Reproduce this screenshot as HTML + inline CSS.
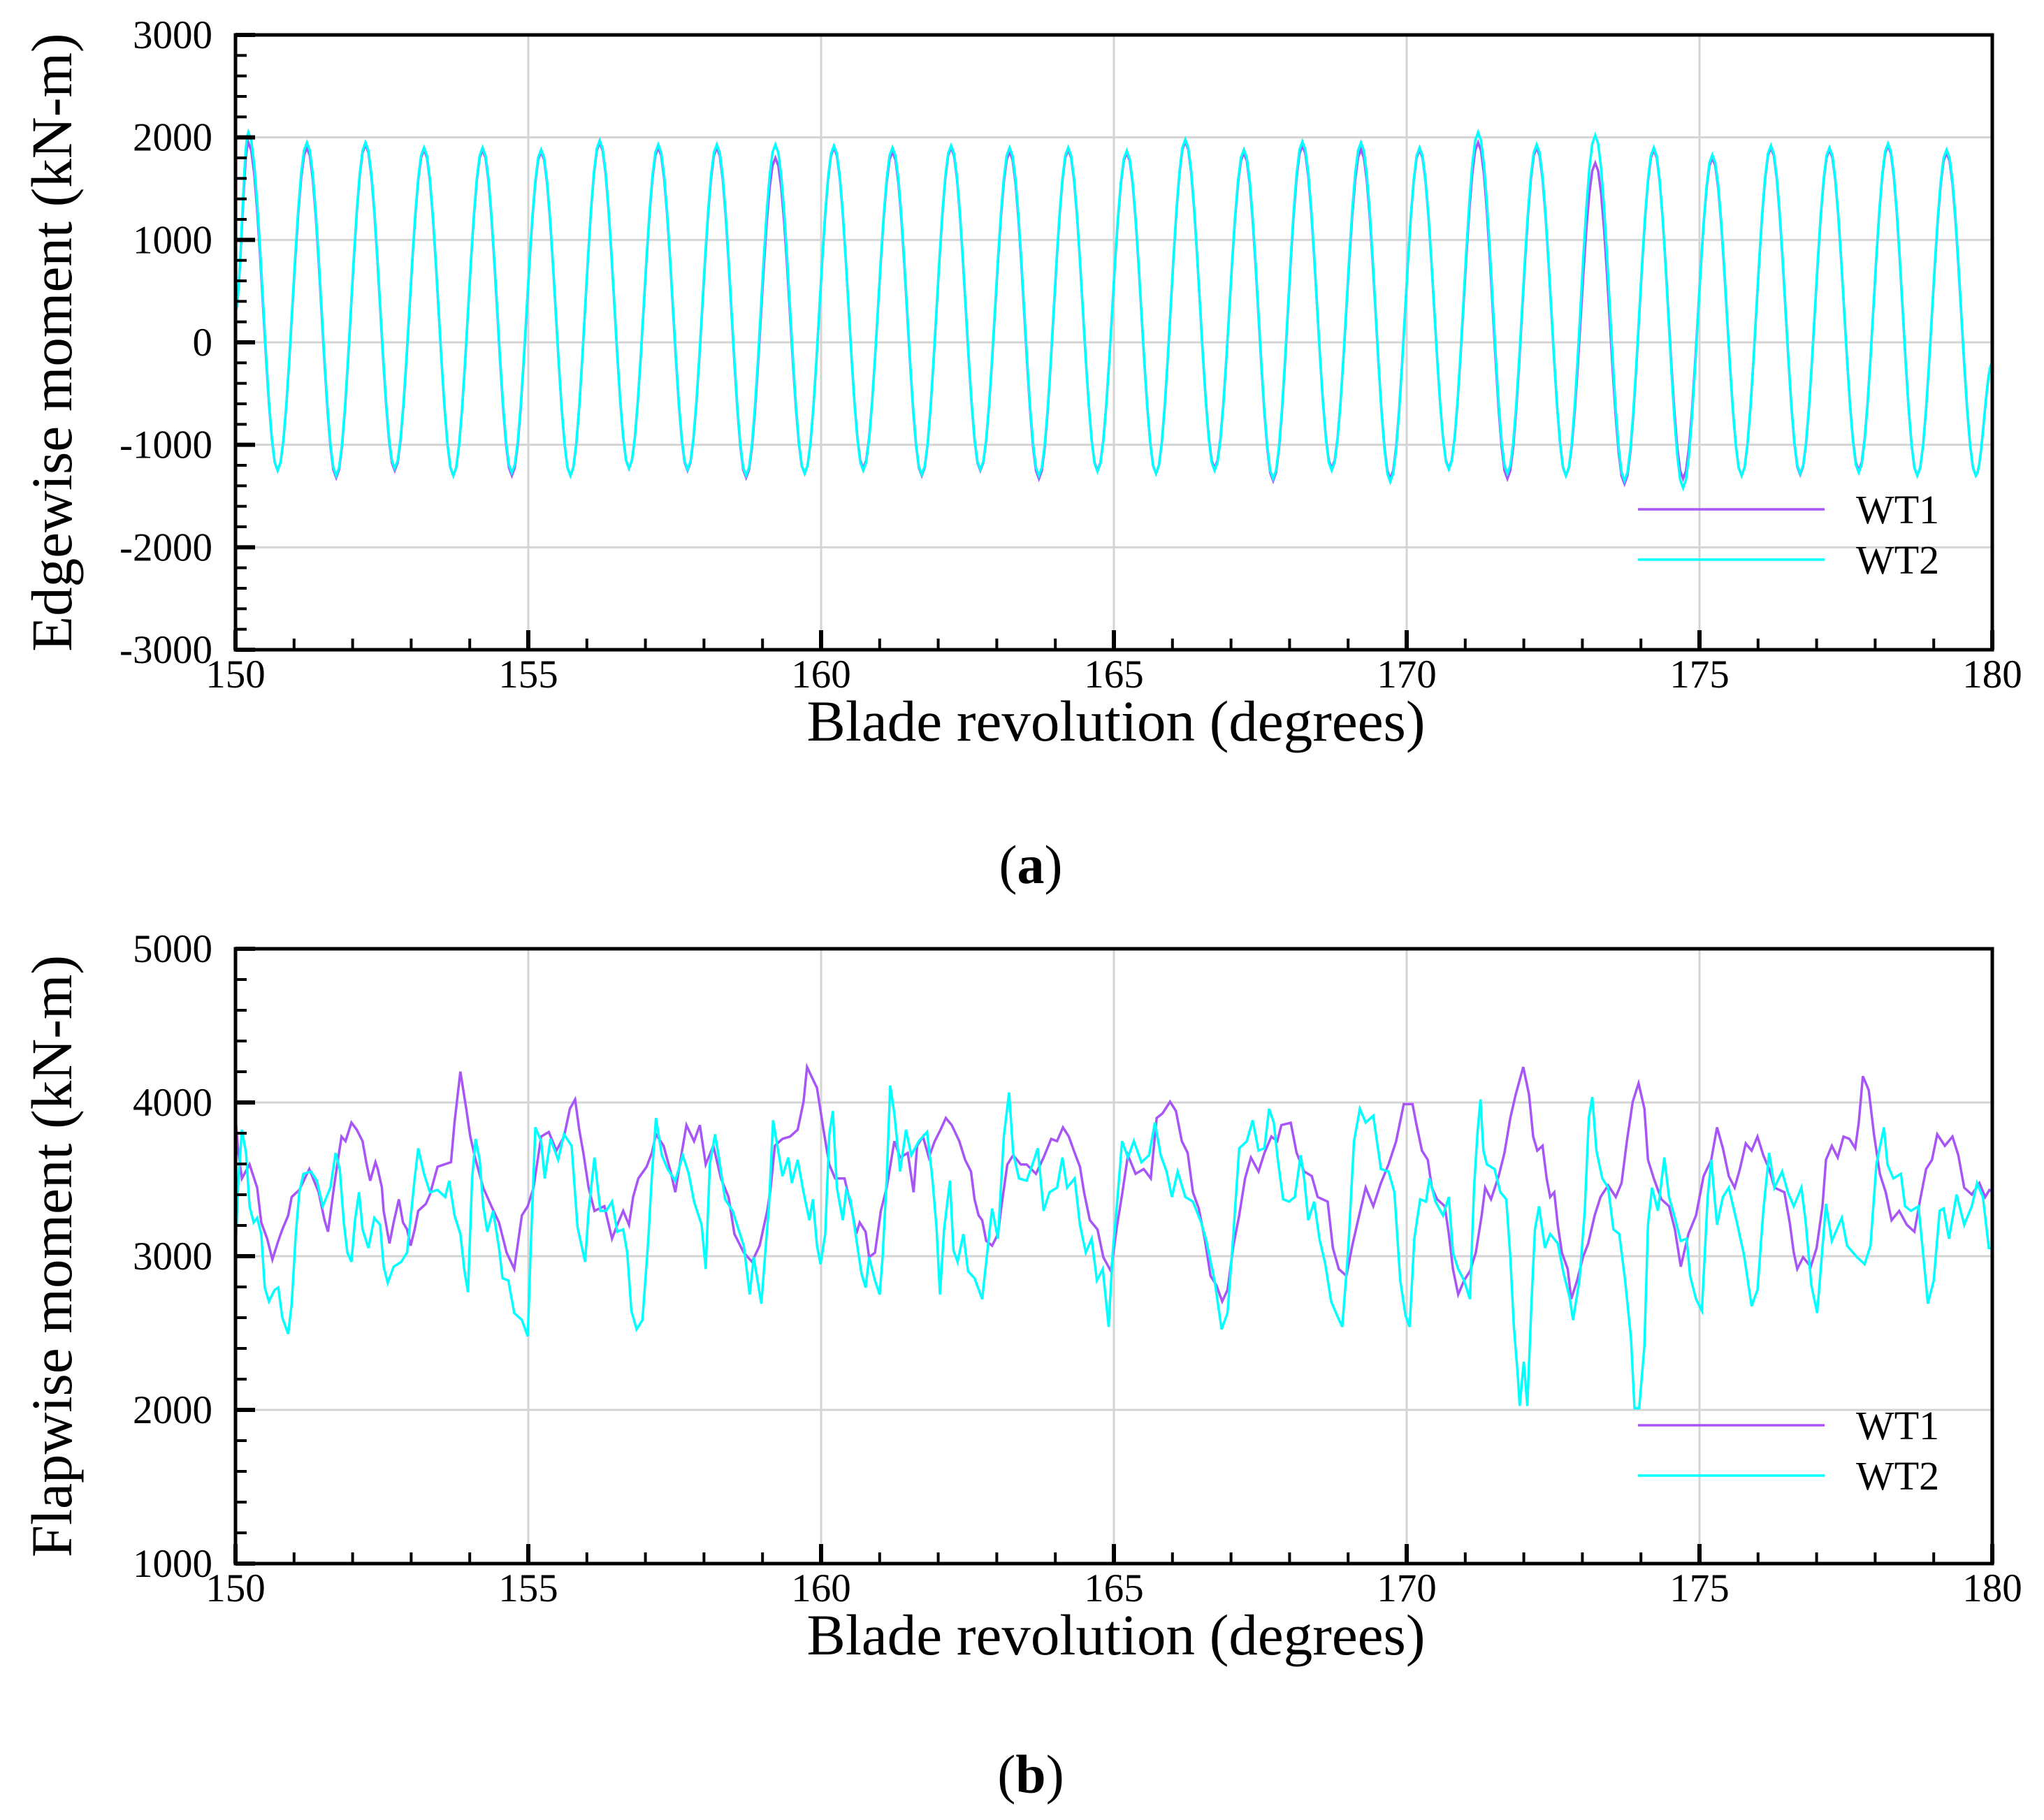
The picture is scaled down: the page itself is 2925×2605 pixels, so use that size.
<!DOCTYPE html>
<html><head><meta charset="utf-8"><style>
html,body{margin:0;padding:0;background:#fff;}
svg{display:block;font-family:"Liberation Serif",serif;}
</style></head><body>
<svg id="fig" width="2925" height="2605" viewBox="0 0 2925 2605" xmlns="http://www.w3.org/2000/svg"></svg>
<script>
// ---- Panel (a) data: edgewise moment, per-cycle extrema (kN-m) ----
const edgeCycleStart = 150.22;
const edgeStartValue = 300;
const edgeEndValue = -200;
const edgePeaksWT1 = [1950,1900,1930,1880,1880,1860,1950,1900,1900,1800,1900,1860,1900,1860,1880,1850,1960,1850,1920,1880,1880,1950,1900,1750,1880,1800,1900,1880,1920,1850];
const edgeTroughsWT1 = [-1250,-1320,-1250,-1300,-1300,-1300,-1230,-1250,-1320,-1280,-1230,-1300,-1250,-1330,-1250,-1280,-1230,-1350,-1230,-1330,-1230,-1330,-1300,-1380,-1330,-1300,-1290,-1250,-1300,-1300];
const edgePeaksWT2 = [2050,1950,1950,1900,1900,1880,1970,1930,1930,1930,1920,1900,1920,1900,1900,1870,1980,1880,1960,1950,1900,2050,1930,2020,1900,1830,1920,1900,1940,1880];
const edgeTroughsWT2 = [-1250,-1300,-1230,-1300,-1270,-1300,-1230,-1240,-1300,-1280,-1250,-1290,-1240,-1300,-1260,-1280,-1250,-1330,-1250,-1360,-1240,-1280,-1300,-1350,-1420,-1300,-1280,-1270,-1300,-1300];
const xTicks = [150,155,160,165,170,175,180];
const yTicksA = [-3000,-2000,-1000,0,1000,2000,3000];
const yTicksB = [1000,2000,3000,4000,5000];
// ---- Panel (b) data: flapwise moment samples ----
const flapXWT1 = [150,150.05,150.11,150.24,150.37,150.44,150.54,150.63,150.73,150.80,150.90,150.96,151.09,151.26,151.42,151.52,151.58,151.68,151.75,151.81,151.88,151.98,152.07,152.17,152.24,152.30,152.39,152.43,152.50,152.53,152.60,152.63,152.70,152.79,152.86,152.93,152.99,153.06,153.12,153.25,153.32,153.45,153.68,153.74,153.84,153.94,154.01,154.10,154.23,154.37,154.50,154.63,154.76,154.89,154.99,155.09,155.22,155.35,155.48,155.61,155.71,155.80,155.87,155.94,156.03,156.13,156.30,156.43,156.52,156.62,156.72,156.79,156.88,157.02,157.11,157.18,157.31,157.44,157.51,157.60,157.70,157.83,157.93,158.03,158.16,158.29,158.42,158.52,158.68,158.82,158.95,159.08,159.14,159.21,159.34,159.47,159.60,159.70,159.76,159.93,160.04,160.14,160.24,160.40,160.53,160.60,160.66,160.76,160.82,160.92,161.02,161.12,161.25,161.35,161.48,161.58,161.64,161.74,161.84,161.94,162.04,162.13,162.23,162.36,162.46,162.56,162.62,162.69,162.75,162.82,162.92,163.02,163.08,163.18,163.28,163.41,163.51,163.67,163.80,163.93,164.03,164.13,164.23,164.33,164.42,164.49,164.59,164.72,164.82,164.95,165.05,165.14,165.24,165.37,165.51,165.63,165.73,165.83,165.96,166.06,166.16,166.26,166.35,166.45,166.55,166.65,166.75,166.85,166.94,167.04,167.14,167.24,167.34,167.47,167.57,167.69,167.79,167.86,168.02,168.12,168.25,168.38,168.48,168.65,168.74,168.84,168.97,169.07,169.17,169.30,169.43,169.56,169.69,169.82,169.95,170.10,170.16,170.26,170.36,170.43,170.52,170.65,170.72,170.79,170.88,170.98,171.08,171.18,171.28,171.34,171.44,171.57,171.67,171.77,171.86,171.99,172.09,172.16,172.23,172.32,172.39,172.45,172.52,172.58,172.65,172.75,172.81,172.91,173.01,173.10,173.21,173.31,173.44,173.57,173.67,173.76,173.86,173.96,174.06,174.12,174.22,174.35,174.48,174.58,174.68,174.81,174.94,175.07,175.20,175.30,175.40,175.50,175.60,175.69,175.79,175.89,175.99,176.09,176.19,176.28,176.45,176.54,176.61,176.67,176.77,176.90,177.00,177.10,177.16,177.26,177.36,177.46,177.56,177.66,177.72,177.79,177.89,177.98,178.08,178.18,178.28,178.41,178.54,178.67,178.77,178.87,178.97,179.06,179.19,179.32,179.42,179.52,179.65,179.78,179.88,179.95,180];
const flapYWT1 = [3900,3672,3506,3597,3446,3219,3114,2978,3099,3174,3265,3385,3431,3567,3416,3234,3159,3446,3627,3778,3748,3869,3823,3748,3597,3491,3612,3567,3446,3295,3144,3083,3219,3370,3219,3174,3068,3174,3295,3340,3401,3582,3612,3869,4201,3959,3778,3627,3446,3325,3219,3023,2917,3265,3325,3446,3778,3808,3687,3778,3959,4020,3823,3672,3446,3295,3325,3114,3204,3295,3204,3385,3506,3582,3672,3793,3718,3536,3416,3627,3853,3748,3853,3597,3718,3506,3385,3144,3023,2963,3068,3295,3446,3718,3763,3778,3823,4005,4231,4095,3823,3597,3506,3506,3295,3144,3219,3159,2993,3023,3295,3446,3748,3642,3672,3416,3718,3778,3642,3748,3823,3899,3853,3748,3627,3551,3370,3265,3234,3099,3068,3144,3325,3597,3657,3597,3597,3536,3642,3763,3748,3838,3778,3672,3582,3416,3234,3174,2993,2902,3189,3400,3657,3536,3567,3506,3899,3929,4005,3944,3748,3672,3416,3310,3114,2872,2811,2706,2781,3068,3265,3506,3642,3551,3672,3778,3748,3853,3868,3672,3551,3521,3385,3355,3053,2917,2872,3068,3234,3446,3325,3476,3597,3748,3989,3989,3869,3687,3627,3446,3370,3325,3144,2917,2751,2842,2902,3023,3265,3446,3370,3521,3672,3899,4050,4231,4050,3778,3687,3718,3506,3385,3416,3204,3023,2917,2721,2842,2993,3083,3265,3385,3461,3385,3476,3748,4005,4125,3959,3627,3506,3370,3325,3174,2932,3144,3265,3521,3627,3838,3702,3521,3446,3567,3733,3687,3778,3657,3567,3446,3416,3219,3023,2917,2993,2932,3053,3325,3627,3718,3642,3778,3763,3702,3869,4171,4080,3793,3536,3416,3234,3295,3204,3159,3370,3567,3627,3793,3718,3778,3657,3446,3401,3476,3385,3431,3420];
const flapXWT2 = [150,150.05,150.11,150.18,150.24,150.31,150.37,150.44,150.50,150.57,150.67,150.73,150.80,150.90,150.96,151.03,151.09,151.16,151.29,151.39,151.49,151.62,151.71,151.78,151.85,151.91,151.98,152.04,152.11,152.17,152.27,152.37,152.47,152.53,152.60,152.70,152.83,152.93,153.06,153.12,153.22,153.32,153.45,153.58,153.65,153.74,153.84,153.91,153.97,154.04,154.10,154.17,154.23,154.30,154.40,154.50,154.56,154.66,154.76,154.89,154.99,155.05,155.12,155.22,155.28,155.38,155.51,155.61,155.74,155.84,155.97,156.03,156.13,156.23,156.33,156.43,156.52,156.62,156.69,156.76,156.85,156.95,157.05,157.11,157.18,157.28,157.38,157.51,157.64,157.74,157.83,157.96,158.03,158.10,158.19,158.26,158.36,158.49,158.59,158.68,158.78,158.85,158.98,159.04,159.11,159.18,159.24,159.34,159.44,159.50,159.60,159.70,159.80,159.86,159.93,159.99,160.07,160.14,160.20,160.27,160.37,160.43,160.50,160.60,160.69,160.76,160.82,160.92,161.00,161.05,161.12,161.18,161.25,161.35,161.45,161.54,161.67,161.81,161.90,161.97,162.03,162.10,162.20,162.26,162.33,162.43,162.51,162.62,162.75,162.85,162.92,163.02,163.12,163.21,163.28,163.38,163.51,163.61,163.70,163.80,163.90,164.03,164.12,164.20,164.33,164.42,164.52,164.62,164.71,164.81,164.91,164.98,165.05,165.14,165.24,165.34,165.47,165.60,165.70,165.80,165.90,165.99,166.09,166.22,166.35,166.49,166.58,166.72,166.84,166.94,167.04,167.14,167.27,167.37,167.47,167.57,167.65,167.73,167.80,167.89,167.99,168.09,168.19,168.25,168.32,168.42,168.51,168.61,168.71,168.81,168.90,169.00,169.10,169.20,169.30,169.43,169.56,169.69,169.79,169.89,169.98,170.05,170.13,170.23,170.33,170.39,170.49,170.62,170.72,170.79,170.88,170.98,171.08,171.15,171.21,171.26,171.31,171.37,171.50,171.60,171.70,171.77,171.83,171.90,171.93,172.00,172.06,172.13,172.19,172.26,172.36,172.45,172.58,172.68,172.78,172.84,172.95,173.04,173.11,173.17,173.24,173.34,173.44,173.53,173.63,173.73,173.83,173.89,173.97,174.06,174.12,174.19,174.29,174.40,174.48,174.58,174.68,174.78,174.84,174.94,175.04,175.14,175.20,175.30,175.40,175.50,175.63,175.76,175.89,175.99,176.09,176.19,176.28,176.41,176.51,176.61,176.74,176.81,176.91,177.01,177.10,177.16,177.26,177.43,177.52,177.69,177.82,177.92,178.02,178.15,178.21,178.31,178.44,178.51,178.61,178.74,178.84,178.90,179.00,179.10,179.17,179.26,179.39,179.52,179.65,179.74,179.84,179.94,180];
const flapYWT2 = [3038,3506,3823,3672,3325,3219,3249,3144,2796,2706,2781,2796,2600,2494,2691,3144,3416,3536,3551,3491,3325,3446,3672,3567,3219,3023,2963,3234,3416,3174,3053,3249,3204,2932,2826,2932,2963,3023,3506,3702,3536,3416,3431,3385,3491,3265,3144,2902,2766,3506,3763,3627,3325,3159,3295,3053,2857,2842,2630,2585,2479,3144,3838,3748,3506,3763,3627,3793,3718,3189,2963,3295,3642,3295,3295,3355,3159,3174,3023,2645,2524,2585,3114,3521,3899,3657,3567,3491,3657,3536,3355,3204,2917,3597,3793,3627,3370,3295,3174,3068,2751,2993,2691,2993,3325,3884,3748,3521,3642,3476,3627,3416,3234,3370,3068,2948,3144,3793,3944,3446,3234,3431,3370,3114,2887,2796,2993,2842,2751,2993,3506,4110,3929,3551,3823,3657,3748,3808,3506,3189,2751,3174,3491,3038,2963,3144,2902,2857,2721,3068,3310,3114,3778,4065,3672,3506,3491,3597,3702,3295,3416,3446,3642,3446,3506,3204,3023,3114,2842,2917,2540,3023,3325,3748,3642,3748,3612,3657,3869,3657,3551,3385,3551,3385,3355,3219,3099,2842,2524,2630,3144,3702,3748,3884,3687,3702,3959,3869,3627,3370,3355,3385,3657,3506,3234,3355,3114,2948,2706,2615,2540,3038,3748,3959,3869,3914,3567,3551,3416,2842,2615,2540,3114,3370,3355,3506,3355,3265,3385,3023,2917,2842,2721,3446,3808,4020,3687,3597,3567,3416,3370,2993,2540,2208,2026,2313,2026,2691,3174,3325,3053,3144,3083,2887,2736,2585,2842,3295,3899,4035,3687,3506,3446,3174,3144,2842,2464,2011,2011,2419,3204,3446,3295,3642,3385,3249,3099,3114,2872,2721,2645,3385,3627,3204,3385,3446,3234,3008,2675,2781,3295,3672,3446,3551,3416,3325,3446,3234,2811,2630,3053,3340,3099,3249,3068,2993,2948,3068,3597,3838,3597,3506,3536,3325,3295,3325,2932,2691,2842,3295,3310,3114,3401,3204,3325,3476,3385,3053,3050];

const NS='http://www.w3.org/2000/svg';
const svg=document.getElementById('fig');
const XL=337, XR=2851;
function mk(tag,attrs,parent){const e=document.createElementNS(NS,tag);for(const k in attrs)e.setAttribute(k,attrs[k]);(parent||svg).appendChild(e);return e;}
function xScale(d){return XL+(d-150)/30*(XR-XL);}

function edgeSeries(peaks,troughs){
  const ext=[{x:150,v:edgeStartValue}];
  for(let k=0;k<peaks.length;k++){
    ext.push({x:edgeCycleStart+k,v:peaks[k]});
    if(k<troughs.length) ext.push({x:edgeCycleStart+k+0.5,v:troughs[k]});
  }
  ext.push({x:180,v:edgeEndValue});
  const pts=[];
  for(let i=0;i<ext.length-1;i++){
    const a=ext[i],b=ext[i+1];const n=10;
    for(let j=0;j<n;j++){const t=j/n;const w=(1-Math.cos(Math.PI*t))/2;pts.push([a.x+(b.x-a.x)*t,a.v+(b.v-a.v)*w]);}
  }
  pts.push([180,edgeEndValue]);
  return pts;
}

function panel(cfg){
  const g=mk('g',{});
  
  
  const yS=v=>cfg.yBot-(v-cfg.ymin)/(cfg.ymax-cfg.ymin)*(cfg.yBot-cfg.yTop);
  for(const t of xTicks.slice(1,-1)){const l=mk('line',{x1:xScale(t),x2:xScale(t),y1:cfg.yTop,y2:cfg.yBot,stroke:'#d4d4d4','stroke-width':3},g);
    }
  for(const t of cfg.yTicks.slice(1,-1)){const l=mk('line',{x1:XL,x2:XR,y1:yS(t),y2:yS(t),stroke:'#d4d4d4','stroke-width':3},g);
    }
  const clip=mk('clipPath',{id:'clip'+cfg.name},g);mk('rect',{x:XL,y:cfg.yTop,width:XR-XL,height:cfg.yBot-cfg.yTop},clip);
  cfg.series.forEach(s=>{
    const p=mk('polyline',{points:s.pts.map(q=>xScale(q[0]).toFixed(1)+','+yS(q[1]).toFixed(1)).join(' '),fill:'none',stroke:s.color,'stroke-width':3.5,'stroke-linejoin':'miter','clip-path':'url(#clip'+cfg.name+')'},g);
    
  });
  for(let d=150;d<=180;d++){const major=xTicks.includes(d);
    const l=mk('line',{x1:xScale(d),x2:xScale(d),y1:cfg.yBot,y2:cfg.yBot-(major?28:16),stroke:'#000','stroke-width':major?6:4},g);
    }
  const step=(cfg.yTicks[1]-cfg.yTicks[0])/5;
  for(let v=cfg.ymin;v<=cfg.ymax+1;v+=step){const major=cfg.yTicks.includes(Math.round(v));
    const l=mk('line',{x1:XL,x2:XL+(major?28:16),y1:yS(v),y2:yS(v),stroke:'#000','stroke-width':major?6:4},g);
    }
  const fr=mk('rect',{x:XL,y:cfg.yTop,width:XR-XL,height:cfg.yBot-cfg.yTop,fill:'none',stroke:'#000','stroke-width':5},g);
  
  for(const t of xTicks){const tx=mk('text',{x:xScale(t),y:cfg.yBot+54,'text-anchor':'middle','font-size':57},g);tx.textContent=t;
    }
  for(const t of cfg.yTicks){const tx=mk('text',{x:304,y:yS(t)+19,'text-anchor':'end','font-size':57},g);tx.textContent=t;
    }
  const xt=mk('text',{x:1597,y:cfg.yBot+130,'text-anchor':'middle','font-size':83},g);xt.textContent='Blade revolution (degrees)';
  
  const cy=(cfg.yTop+cfg.yBot)/2;
  const yt=mk('text',{x:0,y:0,'text-anchor':'middle','font-size':83,transform:'translate(102,'+cy+') rotate(-90)'},g);yt.textContent=cfg.ytitle;
  
  cfg.series.forEach((s,i)=>{
    const ly=cfg.legY+i*72;
    const l=mk('line',{x1:2344,x2:2611,y1:ly,y2:ly,stroke:s.color,'stroke-width':3.5},g);
    
    const t=mk('text',{x:2656,y:ly+20,'font-size':58},g);t.textContent=s.label;
    
  });
  const cap=mk('text',{x:1475,y:cfg.capY,'text-anchor':'middle','font-size':78},g);
  cap.innerHTML='(<tspan font-weight="bold">'+cfg.cap+'</tspan>)';
  
}

const zip=(a,b)=>a.map((x,i)=>[x,b[i]]);
panel({name:'edgewise-chart',yTop:50,yBot:930,ymin:-3000,ymax:3000,yTicks:yTicksA,ytitle:'Edgewise moment (kN-m)',legY:729,capY:1264,cap:'a',
  series:[{id:'wt1',label:'WT1',color:'#a855f7',pts:edgeSeries(edgePeaksWT1,edgeTroughsWT1)},
          {id:'wt2',label:'WT2',color:'#00ffff',pts:edgeSeries(edgePeaksWT2,edgeTroughsWT2)}]});
panel({name:'flapwise-chart',yTop:1358,yBot:2238,ymin:1000,ymax:5000,yTicks:yTicksB,ytitle:'Flapwise moment (kN-m)',legY:2040,capY:2566,cap:'b',
  series:[{id:'wt1',label:'WT1',color:'#a855f7',pts:zip(flapXWT1,flapYWT1)},
          {id:'wt2',label:'WT2',color:'#00ffff',pts:zip(flapXWT2,flapYWT2)}]});
</script>
</body></html>
